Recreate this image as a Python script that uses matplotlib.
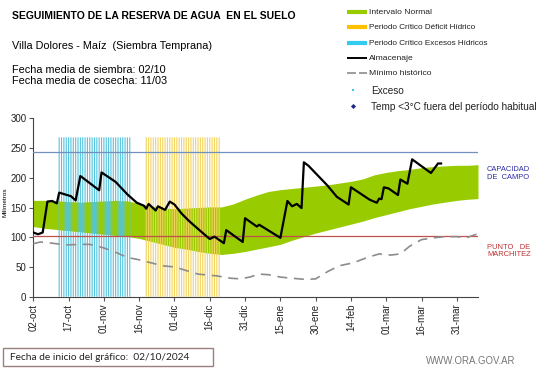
import matplotlib
matplotlib.use('Agg')
import matplotlib.pyplot as plt
from matplotlib.patches import Rectangle

plt.rcParams['font.family'] = ['Liberation Sans', 'DejaVu Sans']

# days counted from 02-oct-2024
tick_days = list(range(0, 181, 15))
tick_labels = ['02-oct', '17-oct', '01-nov', '16-nov', '01-dic', '16-dic', '31-dic',
               '15-ene', '30-ene', '14-feb', '01-mar', '16-mar', '31-mar']

# Intervalo Normal (green band)
band_days = [0, 5, 10, 15, 20, 25, 30, 35, 40, 45, 50, 55, 60, 65, 70, 75, 80, 85, 90,
             95, 100, 105, 110, 115, 120, 125, 130, 135, 140, 145, 150, 155, 160, 165,
             170, 175, 180, 185, 189]
band_upper = [162, 162, 161, 160, 159, 160, 161, 162, 161, 157, 152, 149, 148, 149, 150,
              151, 151, 156, 164, 171, 177, 180, 182, 184, 186, 188, 191, 194, 198, 205,
              209, 212, 214, 217, 219, 220, 221, 221, 222]
band_lower = [118, 115, 113, 111, 109, 107, 105, 103, 101, 98, 93, 88, 83, 80, 76, 73,
              71, 73, 76, 80, 84, 88, 95, 101, 107, 112, 117, 122, 127, 133, 138, 143,
              148, 152, 156, 159, 162, 164, 165]

# Mínimo histórico (dashed)
min_days = [0, 3, 8, 14, 20, 24, 30, 36, 40, 45, 50, 55, 60, 65, 70, 78, 84, 88, 92, 96,
            100, 105, 110, 116, 120, 125, 130, 136, 142, 147, 152, 156, 160, 165, 170,
            175, 180, 184, 189]
min_vals = [89, 92, 90, 87, 88, 88, 82, 73, 66, 62, 57, 52, 50, 44, 38, 35, 31, 30, 33,
            38, 37, 33, 31, 29, 30, 42, 52, 57, 66, 72, 70, 72, 85, 96, 99, 101, 101, 99,
            106]

# Almacenaje (black line)
alm_days = [0, 2, 4, 6, 8, 10, 11, 16, 18, 20, 28, 29, 35, 40, 44, 47, 48, 49, 52, 53,
            56, 58, 60, 63, 66, 70, 75, 77, 81, 82, 89, 90, 95, 96, 105, 108, 110, 112,
            114, 115, 117, 125, 129, 134, 135, 143, 146, 147, 148, 149, 151, 155, 156,
            159, 161, 169, 170.5, 172, 173.3]
alm_vals = [108, 105, 108, 160, 161, 157, 175, 169, 162, 203, 179, 209, 193, 172, 158,
            153, 148, 156, 145, 152, 146, 160, 155, 140, 128, 114, 97, 101, 90, 112, 92,
            132, 118, 121, 99, 161, 152, 156, 149, 226, 220, 187, 168, 155, 184, 163, 158,
            165, 164, 184, 182, 171, 197, 190, 231, 208, 216, 224, 224]

# critical periods (one bar per day)
excess_days = list(range(11, 42))
deficit_days = list(range(48, 80))
critical_top = 268

capacidad_campo = 243
punto_marchitez = 102

W, H = 541, 368
fig = plt.figure(figsize=(W / 100, H / 100), dpi=100)
ax = fig.add_axes([33.3 / W, 1 - 296.7 / H, (478 - 33.3) / W, (296.7 - 118.3) / H])

ax.fill_between(band_days, band_lower, band_upper, color='#99cc00', lw=0, zorder=1)
ax.vlines(excess_days, 0, critical_top, color='#52c4de', lw=0.8, zorder=2, snap=False)
ax.vlines(deficit_days, 0, critical_top, color='#f2d45e', lw=0.8, zorder=2, snap=False)
ax.axhline(capacidad_campo, color='#7090c0', lw=0.9, zorder=3)
ax.axhline(punto_marchitez, color='#c0504d', lw=0.9, zorder=3)
ax.plot(min_days, min_vals, color='#8c8c8c', lw=1.2, dashes=(6, 4), zorder=4)
ax.plot(alm_days, alm_vals, color='black', lw=1.6, zorder=5)

ax.set_xlim(0, 189)
ax.set_ylim(0, 300)
ax.set_yticks(range(0, 301, 50))
ax.set_xticks(tick_days)
ax.set_xticklabels(tick_labels, rotation=90)
ax.tick_params(labelsize=7, length=3, width=0.8, color='#555555', pad=2, labelcolor='#222222')
for s in ('top', 'right'):
    ax.spines[s].set_visible(False)
for s in ('left', 'bottom'):
    ax.spines[s].set_color('#444444')
    ax.spines[s].set_linewidth(0.8)

# overlay in pixel coordinates for texts and legend
ov = fig.add_axes([0, 0, 1, 1])
ov.set_xlim(0, W)
ov.set_ylim(H, 0)
ov.axis('off')

ov.text(12, 19.3, 'SEGUIMIENTO DE LA RESERVA DE AGUA  EN EL SUELO', fontsize=7.5,
        fontweight='bold', va='baseline')
ov.text(12, 48.8, 'Villa Dolores - Maíz  (Siembra Temprana)', fontsize=7.8, va='baseline')
ov.text(12, 72.7, 'Fecha media de siembra: 02/10', fontsize=7.8, va='baseline')
ov.text(12, 84.5, 'Fecha media de cosecha: 11/03', fontsize=7.8, va='baseline')
ov.text(5.5, 202, 'Milímetros', fontsize=4.6, rotation=90, ha='center', va='center')

# legend
leg_y = [11.7, 27.3, 42.7, 58.3, 73.3, 90, 106]
leg_labels = ['Intervalo Normal', 'Periodo Crítico Déficit Hídrico',
              'Periodo Crítico Excesos Hídricos', 'Almacenaje', 'Mínimo histórico',
              'Exceso', 'Temp <3°C fuera del período habitual']
leg_sizes = [6.1, 5.9, 5.9, 6.1, 6.1, 7.2, 7.2]
leg_x = [369, 369, 369, 369, 369, 371, 371]
ov.plot([347, 367], [leg_y[0]] * 2, color='#99cc00', lw=3, solid_capstyle='butt')
ov.plot([347, 367], [leg_y[1]] * 2, color='#ffc000', lw=3, solid_capstyle='butt')
ov.plot([347, 367], [leg_y[2]] * 2, color='#33ccee', lw=3, solid_capstyle='butt')
ov.plot([347, 367], [leg_y[3]] * 2, color='black', lw=1.4, solid_capstyle='butt')
ov.plot([347, 356], [leg_y[4]] * 2, color='#8c8c8c', lw=1.2, solid_capstyle='butt')
ov.plot([359, 367], [leg_y[4]] * 2, color='#8c8c8c', lw=1.2, solid_capstyle='butt')
ov.plot([353], [leg_y[5]], 's', color='#33ccee', ms=1.6, mew=0)
ov.plot([353], [leg_y[6]], 'D', color='#1f2a8a', ms=2.6, mew=0)
for x, y, lab, fs in zip(leg_x, leg_y, leg_labels, leg_sizes):
    ov.text(x, y + 0.5, lab, fontsize=fs, va='center', color='#222222')

ov.text(487, 173.5, 'CAPACIDAD\nDE  CAMPO', fontsize=5.4, color='#2b2ba8',
        va='center', linespacing=1.15)
ov.text(487, 251, 'PUNTO   DE\nMARCHITEZ', fontsize=5.4, color='#c03030',
        va='center', linespacing=1.15)

ov.add_patch(Rectangle((3.3, 348.3), 209.4, 17.7, fill=False, edgecolor='#9a7f7f', lw=1))
ov.text(10, 357.5, 'Fecha de inicio del gráfico:  02/10/2024', fontsize=7.3,
        family=['Lato', 'DejaVu Sans'], va='center', color='#222222')
ov.text(515, 360.7, 'WWW.ORA.GOV.AR', fontsize=6.9, ha='right', va='center',
        color='#777777')

fig.savefig('out.png', dpi=100)
